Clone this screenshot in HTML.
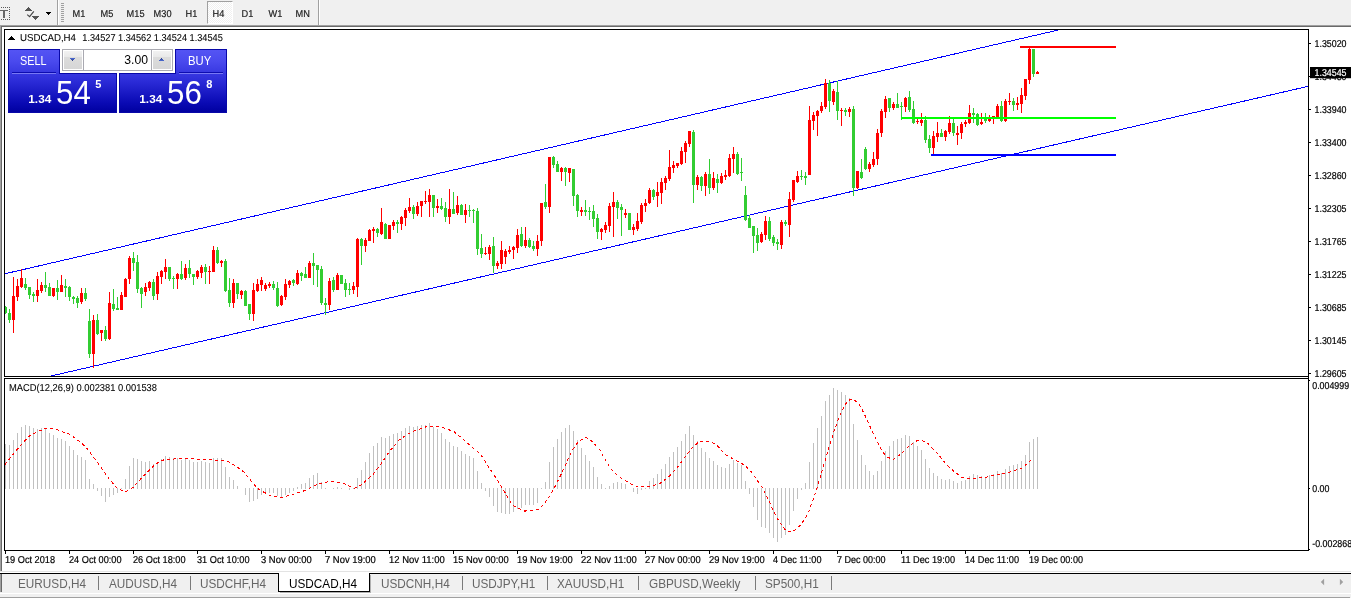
<!DOCTYPE html>
<html lang="en">
<head>
<meta charset="utf-8">
<title>USDCAD,H4</title>
<style>
*{box-sizing:border-box;margin:0;padding:0}
html,body{width:1351px;height:598px;overflow:hidden;background:#fff}
body{position:relative;font-family:"Liberation Sans",sans-serif;font-size:9px;color:#000}
.abs{position:absolute}
.toolbar{left:0;top:0;width:1351px;height:25px;background:#f0f0f0}
.tb-btn{position:absolute;top:0;height:24px;line-height:24px;font-size:10px;color:#1c1c1c;-webkit-text-stroke:.2px #1c1c1c;white-space:nowrap;text-rendering:geometricPrecision;transform-origin:0 17px;transform:translate(.6px,3px) scale(.92,1)}
.tb-active{position:absolute;left:207px;top:1px;width:26px;height:23px;background:repeating-conic-gradient(#ffffff 0% 25%,#f0f0f0 0% 50%) 0 0/2px 2px;border:1px solid #a0a0a0;border-right-color:#fff;border-bottom-color:#fff}
.vsep{position:absolute;top:0;width:2px;height:25px;border-left:1px solid #a0a0a0;border-right:1px solid #fff}
.grip{position:absolute;left:61px;top:3px;width:3px;height:19px;background:repeating-linear-gradient(to bottom,#a0a0a0 0,#a0a0a0 1px,#f0f0f0 1px,#f0f0f0 2px)}
.frame-top1{left:0;top:25px;width:1351px;height:1px;background:#a0a0a0}
.frame-top2{left:1px;top:26px;width:1350px;height:1px;background:#696969}
.frame-l1{left:0;top:25px;width:1px;height:546px;background:#a0a0a0}
.frame-l2{left:1px;top:26px;width:1px;height:545px;background:#696969}
.chart{position:absolute;left:0;top:0}
/* one click trading */
.oct{position:absolute;color:#fff}
.blue{background:linear-gradient(to bottom,#5454f4 0%,#4a4aee 18%,#2c2cd8 50%,#0a0ab4 85%,#0000a0 100%)}
.num{position:absolute;white-space:nowrap;color:#fff}
.spin{position:absolute;top:51px;height:18px;background:linear-gradient(to bottom,#f2f2f2 0,#e9e9e9 33%,#dcdcdc 34%,#d6d6d6 100%)}
/* tabs */
.tabbar{left:0;top:574px;width:1351px;height:24px;background:#f0f0f0}
.tab{position:absolute;top:577.7px;font-size:12.6px;line-height:12px;color:#666;white-space:nowrap;transform-origin:0 0;transform:scaleX(.935)}
.tsep{position:absolute;top:576px;width:1px;height:14px;background:#7a7a7a}
</style>
</head>
<body>
<!-- toolbar -->
<div class="abs toolbar">
  <svg class="abs" style="left:0;top:0" width="60" height="25" viewBox="0 0 60 25" shape-rendering="crispEdges">
    <g fill="#5a5a5a">
      <rect x="1" y="7" width="1" height="1"/><rect x="3" y="7" width="1" height="1"/><rect x="5" y="7" width="1" height="1"/><rect x="7" y="7" width="1" height="1"/><rect x="9" y="7" width="1" height="1"/>
      <rect x="1" y="19" width="1" height="1"/><rect x="3" y="19" width="1" height="1"/><rect x="5" y="19" width="1" height="1"/><rect x="7" y="19" width="1" height="1"/><rect x="9" y="19" width="1" height="1"/>
      <rect x="9" y="9" width="1" height="1"/><rect x="9" y="11" width="1" height="1"/><rect x="9" y="13" width="1" height="1"/><rect x="9" y="15" width="1" height="1"/><rect x="9" y="17" width="1" height="1"/>
    </g>
    <rect x="0" y="10" width="8" height="1" fill="#686868"/>
    <rect x="3" y="10" width="2" height="8" fill="#686868"/>
    <g fill="#555">
      <rect x="28" y="7" width="1" height="1"/><rect x="27" y="8" width="3" height="1"/><rect x="26" y="9" width="5" height="1"/><rect x="25" y="10" width="7" height="1"/>
      <rect x="32" y="16" width="7" height="1"/><rect x="33" y="17" width="5" height="1"/><rect x="34" y="18" width="3" height="1"/><rect x="35" y="19" width="1" height="1"/>
    </g>
    <path d="M27.2 14.6 L29.6 16.6 L33.8 11.3" fill="none" stroke="#484848" stroke-width="1.2" shape-rendering="auto"/>
    <rect x="46" y="12" width="5" height="1" fill="#000"/><rect x="47" y="13" width="3" height="1" fill="#000"/><rect x="48" y="14" width="1" height="1" fill="#000"/>
  </svg>
  <div class="vsep" style="left:57px"></div>
  <div class="grip"></div>
  <div class="tb-active"></div>
  <span class="tb-btn" style="left:72px">M1</span>
  <span class="tb-btn" style="left:100px">M5</span>
  <span class="tb-btn" style="left:126px">M15</span>
  <span class="tb-btn" style="left:153px">M30</span>
  <span class="tb-btn" style="left:185px">H1</span>
  <span class="tb-btn" style="left:212px">H4</span>
  <span class="tb-btn" style="left:241px">D1</span>
  <span class="tb-btn" style="left:268px">W1</span>
  <span class="tb-btn" style="left:295px">MN</span>
  <div class="vsep" style="left:318px"></div>
</div>
<div class="abs frame-top1"></div><div class="abs frame-top2"></div>
<div class="abs frame-l1"></div><div class="abs frame-l2"></div>

<svg class="chart" width="1351" height="598" viewBox="0 0 1351 598"><defs><clipPath id="cm"><rect x="5" y="30" width="1303" height="346"/></clipPath><clipPath id="cs"><rect x="5" y="379" width="1303" height="171"/></clipPath></defs><g shape-rendering="crispEdges"><g clip-path="url(#cm)"><line x1="5.00" y1="273.75" x2="1075.00" y2="26.12" stroke="#0000ff" stroke-width="1"/><line x1="30.00" y1="380.82" x2="1308.00" y2="86.37" stroke="#0000ff" stroke-width="1"/><rect x="5" y="306" width="1" height="8" fill="#32cd32"/><rect x="4" y="307" width="3" height="6" fill="#32cd32"/><rect x="9" y="309" width="1" height="14" fill="#32cd32"/><rect x="8" y="313" width="3" height="7" fill="#32cd32"/><rect x="13" y="277" width="1" height="56" fill="#ff0000"/><rect x="12" y="296" width="3" height="24" fill="#ff0000"/><rect x="17" y="279" width="1" height="22" fill="#ff0000"/><rect x="16" y="286" width="3" height="11" fill="#ff0000"/><rect x="21" y="269" width="1" height="19" fill="#ff0000"/><rect x="20" y="278" width="3" height="9" fill="#ff0000"/><rect x="25" y="278" width="1" height="12" fill="#32cd32"/><rect x="24" y="284" width="3" height="4" fill="#32cd32"/><rect x="29" y="287" width="1" height="12" fill="#32cd32"/><rect x="28" y="287" width="3" height="8" fill="#32cd32"/><rect x="33" y="292" width="1" height="10" fill="#32cd32"/><rect x="32" y="294" width="3" height="2" fill="#32cd32"/><rect x="37" y="279" width="1" height="23" fill="#ff0000"/><rect x="36" y="290" width="3" height="6" fill="#ff0000"/><rect x="41" y="282" width="1" height="11" fill="#ff0000"/><rect x="40" y="285" width="3" height="6" fill="#ff0000"/><rect x="45" y="272" width="1" height="20" fill="#32cd32"/><rect x="44" y="285" width="3" height="3" fill="#32cd32"/><rect x="49" y="283" width="1" height="13" fill="#32cd32"/><rect x="48" y="287" width="3" height="9" fill="#32cd32"/><rect x="53" y="288" width="1" height="9" fill="#ff0000"/><rect x="52" y="288" width="3" height="8" fill="#ff0000"/><rect x="57" y="280" width="1" height="20" fill="#32cd32"/><rect x="56" y="288" width="3" height="4" fill="#32cd32"/><rect x="61" y="275" width="1" height="17" fill="#ff0000"/><rect x="60" y="285" width="3" height="7" fill="#ff0000"/><rect x="65" y="279" width="1" height="18" fill="#32cd32"/><rect x="64" y="286" width="3" height="2" fill="#32cd32"/><rect x="69" y="286" width="1" height="15" fill="#32cd32"/><rect x="68" y="287" width="3" height="10" fill="#32cd32"/><rect x="73" y="296" width="1" height="8" fill="#32cd32"/><rect x="72" y="297" width="3" height="2" fill="#32cd32"/><rect x="77" y="296" width="1" height="12" fill="#32cd32"/><rect x="76" y="298" width="3" height="5" fill="#32cd32"/><rect x="81" y="288" width="1" height="16" fill="#ff0000"/><rect x="80" y="293" width="3" height="9" fill="#ff0000"/><rect x="85" y="288" width="1" height="13" fill="#32cd32"/><rect x="84" y="293" width="3" height="6" fill="#32cd32"/><rect x="89" y="309" width="1" height="49" fill="#32cd32"/><rect x="88" y="321" width="3" height="33" fill="#32cd32"/><rect x="93" y="315" width="1" height="53" fill="#ff0000"/><rect x="92" y="320" width="3" height="34" fill="#ff0000"/><rect x="97" y="314" width="1" height="21" fill="#32cd32"/><rect x="96" y="320" width="3" height="14" fill="#32cd32"/><rect x="101" y="330" width="1" height="11" fill="#ff0000"/><rect x="100" y="330" width="3" height="3" fill="#ff0000"/><rect x="105" y="326" width="1" height="15" fill="#32cd32"/><rect x="104" y="330" width="3" height="9" fill="#32cd32"/><rect x="109" y="292" width="1" height="48" fill="#ff0000"/><rect x="108" y="303" width="3" height="36" fill="#ff0000"/><rect x="113" y="289" width="1" height="22" fill="#32cd32"/><rect x="112" y="304" width="3" height="5" fill="#32cd32"/><rect x="117" y="297" width="1" height="13" fill="#32cd32"/><rect x="116" y="308" width="3" height="2" fill="#32cd32"/><rect x="121" y="292" width="1" height="18" fill="#ff0000"/><rect x="120" y="295" width="3" height="15" fill="#ff0000"/><rect x="125" y="278" width="1" height="19" fill="#ff0000"/><rect x="124" y="279" width="3" height="18" fill="#ff0000"/><rect x="129" y="256" width="1" height="28" fill="#ff0000"/><rect x="128" y="258" width="3" height="21" fill="#ff0000"/><rect x="133" y="252" width="1" height="19" fill="#32cd32"/><rect x="132" y="258" width="3" height="5" fill="#32cd32"/><rect x="137" y="255" width="1" height="38" fill="#32cd32"/><rect x="136" y="262" width="3" height="27" fill="#32cd32"/><rect x="141" y="287" width="1" height="21" fill="#32cd32"/><rect x="140" y="288" width="3" height="6" fill="#32cd32"/><rect x="145" y="283" width="1" height="13" fill="#ff0000"/><rect x="144" y="287" width="3" height="5" fill="#ff0000"/><rect x="149" y="281" width="1" height="10" fill="#ff0000"/><rect x="148" y="282" width="3" height="6" fill="#ff0000"/><rect x="153" y="279" width="1" height="21" fill="#32cd32"/><rect x="152" y="282" width="3" height="14" fill="#32cd32"/><rect x="157" y="272" width="1" height="28" fill="#ff0000"/><rect x="156" y="276" width="3" height="18" fill="#ff0000"/><rect x="161" y="270" width="1" height="14" fill="#ff0000"/><rect x="160" y="271" width="3" height="6" fill="#ff0000"/><rect x="165" y="259" width="1" height="20" fill="#ff0000"/><rect x="164" y="267" width="3" height="5" fill="#ff0000"/><rect x="169" y="267" width="1" height="14" fill="#32cd32"/><rect x="168" y="267" width="3" height="12" fill="#32cd32"/><rect x="173" y="276" width="1" height="13" fill="#32cd32"/><rect x="172" y="278" width="3" height="1" fill="#32cd32"/><rect x="177" y="273" width="1" height="16" fill="#ff0000"/><rect x="176" y="274" width="3" height="5" fill="#ff0000"/><rect x="181" y="261" width="1" height="19" fill="#32cd32"/><rect x="180" y="274" width="3" height="5" fill="#32cd32"/><rect x="185" y="264" width="1" height="16" fill="#ff0000"/><rect x="184" y="268" width="3" height="10" fill="#ff0000"/><rect x="189" y="260" width="1" height="18" fill="#32cd32"/><rect x="188" y="268" width="3" height="6" fill="#32cd32"/><rect x="193" y="274" width="1" height="11" fill="#32cd32"/><rect x="192" y="274" width="3" height="3" fill="#32cd32"/><rect x="197" y="270" width="1" height="9" fill="#ff0000"/><rect x="196" y="271" width="3" height="6" fill="#ff0000"/><rect x="201" y="265" width="1" height="13" fill="#ff0000"/><rect x="200" y="267" width="3" height="6" fill="#ff0000"/><rect x="205" y="264" width="1" height="20" fill="#32cd32"/><rect x="204" y="267" width="3" height="5" fill="#32cd32"/><rect x="209" y="266" width="1" height="18" fill="#ff0000"/><rect x="208" y="271" width="3" height="1" fill="#ff0000"/><rect x="213" y="246" width="1" height="26" fill="#ff0000"/><rect x="212" y="250" width="3" height="22" fill="#ff0000"/><rect x="217" y="247" width="1" height="17" fill="#32cd32"/><rect x="216" y="250" width="3" height="13" fill="#32cd32"/><rect x="221" y="260" width="1" height="7" fill="#ff0000"/><rect x="220" y="261" width="3" height="2" fill="#ff0000"/><rect x="225" y="259" width="1" height="33" fill="#32cd32"/><rect x="224" y="261" width="3" height="30" fill="#32cd32"/><rect x="229" y="278" width="1" height="29" fill="#32cd32"/><rect x="228" y="290" width="3" height="13" fill="#32cd32"/><rect x="233" y="279" width="1" height="29" fill="#ff0000"/><rect x="232" y="283" width="3" height="20" fill="#ff0000"/><rect x="237" y="283" width="1" height="16" fill="#32cd32"/><rect x="236" y="283" width="3" height="11" fill="#32cd32"/><rect x="241" y="290" width="1" height="9" fill="#ff0000"/><rect x="240" y="291" width="3" height="4" fill="#ff0000"/><rect x="245" y="290" width="1" height="16" fill="#32cd32"/><rect x="244" y="291" width="3" height="15" fill="#32cd32"/><rect x="249" y="304" width="1" height="16" fill="#32cd32"/><rect x="248" y="304" width="3" height="10" fill="#32cd32"/><rect x="253" y="283" width="1" height="38" fill="#ff0000"/><rect x="252" y="290" width="3" height="24" fill="#ff0000"/><rect x="257" y="279" width="1" height="13" fill="#ff0000"/><rect x="256" y="284" width="3" height="7" fill="#ff0000"/><rect x="261" y="277" width="1" height="14" fill="#ff0000"/><rect x="260" y="280" width="3" height="5" fill="#ff0000"/><rect x="265" y="283" width="1" height="8" fill="#ff0000"/><rect x="264" y="285" width="3" height="4" fill="#ff0000"/><rect x="269" y="282" width="1" height="6" fill="#ff0000"/><rect x="268" y="284" width="3" height="2" fill="#ff0000"/><rect x="273" y="281" width="1" height="9" fill="#32cd32"/><rect x="272" y="284" width="3" height="4" fill="#32cd32"/><rect x="277" y="282" width="1" height="25" fill="#32cd32"/><rect x="276" y="288" width="3" height="18" fill="#32cd32"/><rect x="281" y="295" width="1" height="11" fill="#ff0000"/><rect x="280" y="296" width="3" height="9" fill="#ff0000"/><rect x="285" y="279" width="1" height="21" fill="#ff0000"/><rect x="284" y="284" width="3" height="13" fill="#ff0000"/><rect x="289" y="280" width="1" height="8" fill="#ff0000"/><rect x="288" y="281" width="3" height="4" fill="#ff0000"/><rect x="293" y="279" width="1" height="7" fill="#32cd32"/><rect x="292" y="280" width="3" height="3" fill="#32cd32"/><rect x="297" y="270" width="1" height="15" fill="#ff0000"/><rect x="296" y="273" width="3" height="11" fill="#ff0000"/><rect x="301" y="272" width="1" height="9" fill="#32cd32"/><rect x="300" y="273" width="3" height="3" fill="#32cd32"/><rect x="305" y="267" width="1" height="11" fill="#32cd32"/><rect x="304" y="274" width="3" height="4" fill="#32cd32"/><rect x="309" y="261" width="1" height="17" fill="#ff0000"/><rect x="308" y="263" width="3" height="15" fill="#ff0000"/><rect x="313" y="253" width="1" height="32" fill="#32cd32"/><rect x="312" y="263" width="3" height="3" fill="#32cd32"/><rect x="317" y="265" width="1" height="22" fill="#32cd32"/><rect x="316" y="265" width="3" height="5" fill="#32cd32"/><rect x="321" y="266" width="1" height="39" fill="#32cd32"/><rect x="320" y="269" width="3" height="34" fill="#32cd32"/><rect x="325" y="298" width="1" height="17" fill="#32cd32"/><rect x="324" y="303" width="3" height="2" fill="#32cd32"/><rect x="329" y="278" width="1" height="32" fill="#ff0000"/><rect x="328" y="281" width="3" height="24" fill="#ff0000"/><rect x="333" y="277" width="1" height="15" fill="#32cd32"/><rect x="332" y="280" width="3" height="10" fill="#32cd32"/><rect x="337" y="273" width="1" height="17" fill="#ff0000"/><rect x="336" y="275" width="3" height="15" fill="#ff0000"/><rect x="341" y="275" width="1" height="9" fill="#32cd32"/><rect x="340" y="275" width="3" height="9" fill="#32cd32"/><rect x="345" y="279" width="1" height="18" fill="#32cd32"/><rect x="344" y="283" width="3" height="7" fill="#32cd32"/><rect x="349" y="283" width="1" height="12" fill="#32cd32"/><rect x="348" y="289" width="3" height="1" fill="#32cd32"/><rect x="353" y="282" width="1" height="12" fill="#ff0000"/><rect x="352" y="286" width="3" height="4" fill="#ff0000"/><rect x="357" y="238" width="1" height="59" fill="#ff0000"/><rect x="356" y="239" width="3" height="48" fill="#ff0000"/><rect x="361" y="238" width="1" height="27" fill="#32cd32"/><rect x="360" y="239" width="3" height="7" fill="#32cd32"/><rect x="365" y="238" width="1" height="14" fill="#ff0000"/><rect x="364" y="240" width="3" height="6" fill="#ff0000"/><rect x="369" y="229" width="1" height="12" fill="#ff0000"/><rect x="368" y="230" width="3" height="11" fill="#ff0000"/><rect x="373" y="227" width="1" height="16" fill="#ff0000"/><rect x="372" y="229" width="3" height="2" fill="#ff0000"/><rect x="377" y="228" width="1" height="9" fill="#32cd32"/><rect x="376" y="229" width="3" height="4" fill="#32cd32"/><rect x="381" y="208" width="1" height="27" fill="#ff0000"/><rect x="380" y="222" width="3" height="12" fill="#ff0000"/><rect x="385" y="223" width="1" height="16" fill="#32cd32"/><rect x="384" y="224" width="3" height="15" fill="#32cd32"/><rect x="389" y="225" width="1" height="14" fill="#ff0000"/><rect x="388" y="225" width="3" height="14" fill="#ff0000"/><rect x="393" y="220" width="1" height="10" fill="#ff0000"/><rect x="392" y="222" width="3" height="4" fill="#ff0000"/><rect x="397" y="220" width="1" height="13" fill="#32cd32"/><rect x="396" y="222" width="3" height="2" fill="#32cd32"/><rect x="401" y="216" width="1" height="14" fill="#ff0000"/><rect x="400" y="217" width="3" height="7" fill="#ff0000"/><rect x="405" y="208" width="1" height="18" fill="#ff0000"/><rect x="404" y="210" width="3" height="8" fill="#ff0000"/><rect x="409" y="198" width="1" height="15" fill="#ff0000"/><rect x="408" y="207" width="3" height="4" fill="#ff0000"/><rect x="413" y="205" width="1" height="14" fill="#32cd32"/><rect x="412" y="207" width="3" height="7" fill="#32cd32"/><rect x="417" y="202" width="1" height="14" fill="#ff0000"/><rect x="416" y="206" width="3" height="8" fill="#ff0000"/><rect x="421" y="201" width="1" height="16" fill="#ff0000"/><rect x="420" y="201" width="3" height="5" fill="#ff0000"/><rect x="425" y="191" width="1" height="13" fill="#ff0000"/><rect x="424" y="201" width="3" height="1" fill="#ff0000"/><rect x="429" y="189" width="1" height="28" fill="#ff0000"/><rect x="428" y="195" width="3" height="7" fill="#ff0000"/><rect x="433" y="195" width="1" height="22" fill="#32cd32"/><rect x="432" y="195" width="3" height="13" fill="#32cd32"/><rect x="437" y="199" width="1" height="14" fill="#ff0000"/><rect x="436" y="206" width="3" height="2" fill="#ff0000"/><rect x="441" y="198" width="1" height="12" fill="#32cd32"/><rect x="440" y="206" width="3" height="3" fill="#32cd32"/><rect x="445" y="202" width="1" height="20" fill="#32cd32"/><rect x="444" y="208" width="3" height="9" fill="#32cd32"/><rect x="449" y="189" width="1" height="35" fill="#ff0000"/><rect x="448" y="209" width="3" height="8" fill="#ff0000"/><rect x="453" y="192" width="1" height="22" fill="#32cd32"/><rect x="452" y="209" width="3" height="5" fill="#32cd32"/><rect x="457" y="196" width="1" height="19" fill="#ff0000"/><rect x="456" y="205" width="3" height="8" fill="#ff0000"/><rect x="461" y="204" width="1" height="11" fill="#32cd32"/><rect x="460" y="205" width="3" height="10" fill="#32cd32"/><rect x="465" y="204" width="1" height="19" fill="#ff0000"/><rect x="464" y="210" width="3" height="5" fill="#ff0000"/><rect x="469" y="205" width="1" height="12" fill="#32cd32"/><rect x="468" y="210" width="3" height="1" fill="#32cd32"/><rect x="473" y="209" width="1" height="14" fill="#32cd32"/><rect x="472" y="210" width="3" height="1" fill="#32cd32"/><rect x="477" y="208" width="1" height="47" fill="#32cd32"/><rect x="476" y="211" width="3" height="38" fill="#32cd32"/><rect x="481" y="234" width="1" height="24" fill="#32cd32"/><rect x="480" y="248" width="3" height="6" fill="#32cd32"/><rect x="485" y="247" width="1" height="8" fill="#ff0000"/><rect x="484" y="253" width="3" height="1" fill="#ff0000"/><rect x="489" y="245" width="1" height="15" fill="#ff0000"/><rect x="488" y="247" width="3" height="7" fill="#ff0000"/><rect x="493" y="237" width="1" height="36" fill="#32cd32"/><rect x="492" y="246" width="3" height="20" fill="#32cd32"/><rect x="497" y="261" width="1" height="8" fill="#ff0000"/><rect x="496" y="263" width="3" height="3" fill="#ff0000"/><rect x="501" y="241" width="1" height="28" fill="#ff0000"/><rect x="500" y="250" width="3" height="14" fill="#ff0000"/><rect x="505" y="249" width="1" height="15" fill="#ff0000"/><rect x="504" y="251" width="3" height="6" fill="#ff0000"/><rect x="509" y="246" width="1" height="8" fill="#ff0000"/><rect x="508" y="250" width="3" height="2" fill="#ff0000"/><rect x="513" y="246" width="1" height="13" fill="#ff0000"/><rect x="512" y="247" width="3" height="3" fill="#ff0000"/><rect x="517" y="229" width="1" height="24" fill="#ff0000"/><rect x="516" y="235" width="3" height="13" fill="#ff0000"/><rect x="521" y="227" width="1" height="20" fill="#32cd32"/><rect x="520" y="234" width="3" height="12" fill="#32cd32"/><rect x="525" y="227" width="1" height="21" fill="#ff0000"/><rect x="524" y="240" width="3" height="6" fill="#ff0000"/><rect x="529" y="238" width="1" height="10" fill="#32cd32"/><rect x="528" y="240" width="3" height="7" fill="#32cd32"/><rect x="533" y="241" width="1" height="10" fill="#32cd32"/><rect x="532" y="246" width="3" height="3" fill="#32cd32"/><rect x="537" y="235" width="1" height="21" fill="#ff0000"/><rect x="536" y="241" width="3" height="8" fill="#ff0000"/><rect x="541" y="203" width="1" height="43" fill="#ff0000"/><rect x="540" y="203" width="3" height="38" fill="#ff0000"/><rect x="545" y="184" width="1" height="25" fill="#32cd32"/><rect x="544" y="202" width="3" height="5" fill="#32cd32"/><rect x="549" y="157" width="1" height="56" fill="#ff0000"/><rect x="548" y="157" width="3" height="50" fill="#ff0000"/><rect x="553" y="156" width="1" height="12" fill="#32cd32"/><rect x="552" y="157" width="3" height="8" fill="#32cd32"/><rect x="557" y="161" width="1" height="11" fill="#32cd32"/><rect x="556" y="164" width="3" height="8" fill="#32cd32"/><rect x="561" y="167" width="1" height="14" fill="#ff0000"/><rect x="560" y="168" width="3" height="4" fill="#ff0000"/><rect x="565" y="167" width="1" height="19" fill="#32cd32"/><rect x="564" y="168" width="3" height="4" fill="#32cd32"/><rect x="569" y="168" width="1" height="14" fill="#ff0000"/><rect x="568" y="168" width="3" height="5" fill="#ff0000"/><rect x="573" y="169" width="1" height="37" fill="#32cd32"/><rect x="572" y="169" width="3" height="27" fill="#32cd32"/><rect x="577" y="194" width="1" height="23" fill="#32cd32"/><rect x="576" y="195" width="3" height="16" fill="#32cd32"/><rect x="581" y="207" width="1" height="9" fill="#ff0000"/><rect x="580" y="210" width="3" height="2" fill="#ff0000"/><rect x="585" y="200" width="1" height="16" fill="#32cd32"/><rect x="584" y="210" width="3" height="2" fill="#32cd32"/><rect x="589" y="207" width="1" height="13" fill="#32cd32"/><rect x="588" y="211" width="3" height="1" fill="#32cd32"/><rect x="593" y="205" width="1" height="22" fill="#32cd32"/><rect x="592" y="211" width="3" height="8" fill="#32cd32"/><rect x="597" y="214" width="1" height="25" fill="#32cd32"/><rect x="596" y="218" width="3" height="14" fill="#32cd32"/><rect x="601" y="228" width="1" height="12" fill="#ff0000"/><rect x="600" y="229" width="3" height="3" fill="#ff0000"/><rect x="605" y="222" width="1" height="11" fill="#ff0000"/><rect x="604" y="225" width="3" height="5" fill="#ff0000"/><rect x="609" y="203" width="1" height="29" fill="#ff0000"/><rect x="608" y="206" width="3" height="20" fill="#ff0000"/><rect x="613" y="192" width="1" height="45" fill="#ff0000"/><rect x="612" y="202" width="3" height="5" fill="#ff0000"/><rect x="617" y="200" width="1" height="19" fill="#32cd32"/><rect x="616" y="202" width="3" height="6" fill="#32cd32"/><rect x="621" y="204" width="1" height="32" fill="#32cd32"/><rect x="620" y="207" width="3" height="3" fill="#32cd32"/><rect x="625" y="209" width="1" height="9" fill="#ff0000"/><rect x="624" y="213" width="3" height="2" fill="#ff0000"/><rect x="629" y="213" width="1" height="17" fill="#32cd32"/><rect x="628" y="213" width="3" height="17" fill="#32cd32"/><rect x="633" y="224" width="1" height="11" fill="#ff0000"/><rect x="632" y="227" width="3" height="3" fill="#ff0000"/><rect x="637" y="213" width="1" height="18" fill="#ff0000"/><rect x="636" y="221" width="3" height="8" fill="#ff0000"/><rect x="641" y="203" width="1" height="21" fill="#ff0000"/><rect x="640" y="205" width="3" height="17" fill="#ff0000"/><rect x="645" y="199" width="1" height="13" fill="#ff0000"/><rect x="644" y="203" width="3" height="3" fill="#ff0000"/><rect x="649" y="188" width="1" height="16" fill="#ff0000"/><rect x="648" y="190" width="3" height="13" fill="#ff0000"/><rect x="653" y="189" width="1" height="11" fill="#32cd32"/><rect x="652" y="190" width="3" height="7" fill="#32cd32"/><rect x="657" y="182" width="1" height="25" fill="#ff0000"/><rect x="656" y="192" width="3" height="4" fill="#ff0000"/><rect x="661" y="178" width="1" height="26" fill="#ff0000"/><rect x="660" y="182" width="3" height="11" fill="#ff0000"/><rect x="665" y="176" width="1" height="14" fill="#ff0000"/><rect x="664" y="178" width="3" height="5" fill="#ff0000"/><rect x="669" y="150" width="1" height="31" fill="#ff0000"/><rect x="668" y="167" width="3" height="12" fill="#ff0000"/><rect x="673" y="161" width="1" height="12" fill="#ff0000"/><rect x="672" y="165" width="3" height="3" fill="#ff0000"/><rect x="677" y="163" width="1" height="5" fill="#ff0000"/><rect x="676" y="163" width="3" height="3" fill="#ff0000"/><rect x="681" y="147" width="1" height="18" fill="#ff0000"/><rect x="680" y="151" width="3" height="13" fill="#ff0000"/><rect x="685" y="141" width="1" height="22" fill="#ff0000"/><rect x="684" y="143" width="3" height="9" fill="#ff0000"/><rect x="689" y="131" width="1" height="16" fill="#ff0000"/><rect x="688" y="131" width="3" height="13" fill="#ff0000"/><rect x="693" y="130" width="1" height="73" fill="#32cd32"/><rect x="692" y="132" width="3" height="53" fill="#32cd32"/><rect x="697" y="175" width="1" height="15" fill="#ff0000"/><rect x="696" y="177" width="3" height="8" fill="#ff0000"/><rect x="701" y="176" width="1" height="15" fill="#32cd32"/><rect x="700" y="177" width="3" height="9" fill="#32cd32"/><rect x="705" y="172" width="1" height="24" fill="#ff0000"/><rect x="704" y="174" width="3" height="12" fill="#ff0000"/><rect x="709" y="159" width="1" height="35" fill="#32cd32"/><rect x="708" y="174" width="3" height="14" fill="#32cd32"/><rect x="713" y="172" width="1" height="18" fill="#ff0000"/><rect x="712" y="178" width="3" height="10" fill="#ff0000"/><rect x="717" y="174" width="1" height="19" fill="#32cd32"/><rect x="716" y="179" width="3" height="4" fill="#32cd32"/><rect x="721" y="173" width="1" height="11" fill="#ff0000"/><rect x="720" y="176" width="3" height="7" fill="#ff0000"/><rect x="725" y="170" width="1" height="10" fill="#ff0000"/><rect x="724" y="175" width="3" height="2" fill="#ff0000"/><rect x="729" y="154" width="1" height="23" fill="#ff0000"/><rect x="728" y="158" width="3" height="18" fill="#ff0000"/><rect x="733" y="147" width="1" height="26" fill="#ff0000"/><rect x="732" y="154" width="3" height="5" fill="#ff0000"/><rect x="737" y="152" width="1" height="23" fill="#32cd32"/><rect x="736" y="154" width="3" height="20" fill="#32cd32"/><rect x="741" y="158" width="1" height="23" fill="#32cd32"/><rect x="740" y="172" width="3" height="1" fill="#32cd32"/><rect x="745" y="186" width="1" height="35" fill="#32cd32"/><rect x="744" y="195" width="3" height="25" fill="#32cd32"/><rect x="749" y="215" width="1" height="13" fill="#32cd32"/><rect x="748" y="218" width="3" height="10" fill="#32cd32"/><rect x="753" y="226" width="1" height="27" fill="#32cd32"/><rect x="752" y="226" width="3" height="10" fill="#32cd32"/><rect x="757" y="228" width="1" height="23" fill="#32cd32"/><rect x="756" y="235" width="3" height="8" fill="#32cd32"/><rect x="761" y="232" width="1" height="11" fill="#ff0000"/><rect x="760" y="234" width="3" height="8" fill="#ff0000"/><rect x="765" y="216" width="1" height="24" fill="#ff0000"/><rect x="764" y="221" width="3" height="14" fill="#ff0000"/><rect x="769" y="217" width="1" height="24" fill="#32cd32"/><rect x="768" y="221" width="3" height="18" fill="#32cd32"/><rect x="773" y="235" width="1" height="11" fill="#32cd32"/><rect x="772" y="237" width="3" height="6" fill="#32cd32"/><rect x="777" y="239" width="1" height="11" fill="#32cd32"/><rect x="776" y="242" width="3" height="2" fill="#32cd32"/><rect x="781" y="220" width="1" height="29" fill="#ff0000"/><rect x="780" y="222" width="3" height="23" fill="#ff0000"/><rect x="785" y="220" width="1" height="6" fill="#32cd32"/><rect x="784" y="222" width="3" height="2" fill="#32cd32"/><rect x="789" y="192" width="1" height="45" fill="#ff0000"/><rect x="788" y="199" width="3" height="26" fill="#ff0000"/><rect x="793" y="180" width="1" height="22" fill="#ff0000"/><rect x="792" y="180" width="3" height="20" fill="#ff0000"/><rect x="797" y="171" width="1" height="12" fill="#ff0000"/><rect x="796" y="176" width="3" height="6" fill="#ff0000"/><rect x="801" y="170" width="1" height="10" fill="#32cd32"/><rect x="800" y="176" width="3" height="1" fill="#32cd32"/><rect x="805" y="172" width="1" height="13" fill="#32cd32"/><rect x="804" y="176" width="3" height="2" fill="#32cd32"/><rect x="809" y="106" width="1" height="69" fill="#ff0000"/><rect x="808" y="120" width="3" height="55" fill="#ff0000"/><rect x="813" y="112" width="1" height="18" fill="#ff0000"/><rect x="812" y="115" width="3" height="6" fill="#ff0000"/><rect x="817" y="110" width="1" height="26" fill="#ff0000"/><rect x="816" y="111" width="3" height="5" fill="#ff0000"/><rect x="821" y="102" width="1" height="11" fill="#ff0000"/><rect x="820" y="106" width="3" height="5" fill="#ff0000"/><rect x="825" y="79" width="1" height="30" fill="#ff0000"/><rect x="824" y="83" width="3" height="24" fill="#ff0000"/><rect x="829" y="80" width="1" height="32" fill="#32cd32"/><rect x="828" y="83" width="3" height="18" fill="#32cd32"/><rect x="833" y="89" width="1" height="16" fill="#ff0000"/><rect x="832" y="91" width="3" height="11" fill="#ff0000"/><rect x="837" y="81" width="1" height="39" fill="#32cd32"/><rect x="836" y="92" width="3" height="19" fill="#32cd32"/><rect x="841" y="108" width="1" height="18" fill="#ff0000"/><rect x="840" y="110" width="3" height="1" fill="#ff0000"/><rect x="845" y="108" width="1" height="8" fill="#32cd32"/><rect x="844" y="110" width="3" height="2" fill="#32cd32"/><rect x="849" y="107" width="1" height="10" fill="#ff0000"/><rect x="848" y="109" width="3" height="3" fill="#ff0000"/><rect x="853" y="106" width="1" height="90" fill="#32cd32"/><rect x="852" y="109" width="3" height="79" fill="#32cd32"/><rect x="857" y="171" width="1" height="18" fill="#ff0000"/><rect x="856" y="171" width="3" height="17" fill="#ff0000"/><rect x="861" y="159" width="1" height="20" fill="#32cd32"/><rect x="860" y="172" width="3" height="6" fill="#32cd32"/><rect x="865" y="147" width="1" height="23" fill="#32cd32"/><rect x="864" y="149" width="3" height="20" fill="#32cd32"/><rect x="869" y="162" width="1" height="10" fill="#ff0000"/><rect x="868" y="164" width="3" height="5" fill="#ff0000"/><rect x="873" y="152" width="1" height="15" fill="#ff0000"/><rect x="872" y="159" width="3" height="6" fill="#ff0000"/><rect x="877" y="129" width="1" height="36" fill="#ff0000"/><rect x="876" y="133" width="3" height="26" fill="#ff0000"/><rect x="881" y="109" width="1" height="28" fill="#ff0000"/><rect x="880" y="111" width="3" height="22" fill="#ff0000"/><rect x="885" y="96" width="1" height="22" fill="#ff0000"/><rect x="884" y="99" width="3" height="13" fill="#ff0000"/><rect x="889" y="98" width="1" height="14" fill="#32cd32"/><rect x="888" y="98" width="3" height="10" fill="#32cd32"/><rect x="893" y="102" width="1" height="8" fill="#ff0000"/><rect x="892" y="104" width="3" height="4" fill="#ff0000"/><rect x="897" y="93" width="1" height="15" fill="#32cd32"/><rect x="896" y="104" width="3" height="4" fill="#32cd32"/><rect x="901" y="102" width="1" height="18" fill="#32cd32"/><rect x="900" y="106" width="3" height="1" fill="#32cd32"/><rect x="905" y="97" width="1" height="15" fill="#ff0000"/><rect x="904" y="98" width="3" height="9" fill="#ff0000"/><rect x="909" y="91" width="1" height="21" fill="#32cd32"/><rect x="908" y="97" width="3" height="13" fill="#32cd32"/><rect x="913" y="101" width="1" height="23" fill="#32cd32"/><rect x="912" y="109" width="3" height="14" fill="#32cd32"/><rect x="917" y="119" width="1" height="5" fill="#ff0000"/><rect x="916" y="121" width="3" height="1" fill="#ff0000"/><rect x="921" y="113" width="1" height="13" fill="#ff0000"/><rect x="920" y="120" width="3" height="3" fill="#ff0000"/><rect x="925" y="116" width="1" height="27" fill="#32cd32"/><rect x="924" y="120" width="3" height="20" fill="#32cd32"/><rect x="929" y="135" width="1" height="18" fill="#32cd32"/><rect x="928" y="139" width="3" height="9" fill="#32cd32"/><rect x="933" y="131" width="1" height="24" fill="#ff0000"/><rect x="932" y="136" width="3" height="12" fill="#ff0000"/><rect x="937" y="122" width="1" height="20" fill="#ff0000"/><rect x="936" y="133" width="3" height="4" fill="#ff0000"/><rect x="941" y="129" width="1" height="8" fill="#32cd32"/><rect x="940" y="133" width="3" height="4" fill="#32cd32"/><rect x="945" y="130" width="1" height="11" fill="#ff0000"/><rect x="944" y="131" width="3" height="6" fill="#ff0000"/><rect x="949" y="116" width="1" height="18" fill="#ff0000"/><rect x="948" y="123" width="3" height="9" fill="#ff0000"/><rect x="953" y="118" width="1" height="18" fill="#32cd32"/><rect x="952" y="123" width="3" height="10" fill="#32cd32"/><rect x="957" y="126" width="1" height="19" fill="#ff0000"/><rect x="956" y="133" width="3" height="2" fill="#ff0000"/><rect x="961" y="122" width="1" height="17" fill="#ff0000"/><rect x="960" y="124" width="3" height="9" fill="#ff0000"/><rect x="965" y="120" width="1" height="7" fill="#ff0000"/><rect x="964" y="122" width="3" height="2" fill="#ff0000"/><rect x="969" y="105" width="1" height="19" fill="#ff0000"/><rect x="968" y="113" width="3" height="10" fill="#ff0000"/><rect x="973" y="108" width="1" height="15" fill="#32cd32"/><rect x="972" y="113" width="3" height="2" fill="#32cd32"/><rect x="977" y="113" width="1" height="13" fill="#32cd32"/><rect x="976" y="114" width="3" height="11" fill="#32cd32"/><rect x="981" y="113" width="1" height="12" fill="#ff0000"/><rect x="980" y="122" width="3" height="2" fill="#ff0000"/><rect x="985" y="113" width="1" height="10" fill="#32cd32"/><rect x="984" y="117" width="3" height="4" fill="#32cd32"/><rect x="989" y="115" width="1" height="7" fill="#ff0000"/><rect x="988" y="117" width="3" height="4" fill="#ff0000"/><rect x="993" y="116" width="1" height="8" fill="#ff0000"/><rect x="992" y="116" width="3" height="2" fill="#ff0000"/><rect x="997" y="104" width="1" height="14" fill="#ff0000"/><rect x="996" y="106" width="3" height="12" fill="#ff0000"/><rect x="1001" y="101" width="1" height="21" fill="#32cd32"/><rect x="1000" y="106" width="3" height="15" fill="#32cd32"/><rect x="1005" y="99" width="1" height="23" fill="#ff0000"/><rect x="1004" y="101" width="3" height="20" fill="#ff0000"/><rect x="1009" y="93" width="1" height="12" fill="#ff0000"/><rect x="1008" y="101" width="3" height="1" fill="#ff0000"/><rect x="1013" y="98" width="1" height="13" fill="#32cd32"/><rect x="1012" y="101" width="3" height="4" fill="#32cd32"/><rect x="1017" y="97" width="1" height="13" fill="#ff0000"/><rect x="1016" y="103" width="3" height="2" fill="#ff0000"/><rect x="1021" y="88" width="1" height="25" fill="#ff0000"/><rect x="1020" y="95" width="3" height="9" fill="#ff0000"/><rect x="1025" y="79" width="1" height="21" fill="#ff0000"/><rect x="1024" y="79" width="3" height="17" fill="#ff0000"/><rect x="1029" y="47" width="1" height="37" fill="#ff0000"/><rect x="1028" y="49" width="3" height="31" fill="#ff0000"/><rect x="1033" y="49" width="1" height="28" fill="#32cd32"/><rect x="1032" y="49" width="3" height="25" fill="#32cd32"/><rect x="1037" y="71" width="1" height="3" fill="#ff0000"/><rect x="1036" y="72" width="3" height="2" fill="#ff0000"/><rect x="1020" y="46" width="96" height="2" fill="#ff0000"/><rect x="901" y="117" width="215" height="2" fill="#00ff00"/><rect x="931" y="154" width="185" height="2" fill="#0000ff"/></g><g clip-path="url(#cs)"><rect x="5" y="444" width="1" height="45" fill="#c0c0c0"/><rect x="9" y="445" width="1" height="44" fill="#c0c0c0"/><rect x="13" y="440" width="1" height="49" fill="#c0c0c0"/><rect x="17" y="433" width="1" height="56" fill="#c0c0c0"/><rect x="21" y="427" width="1" height="62" fill="#c0c0c0"/><rect x="25" y="425" width="1" height="64" fill="#c0c0c0"/><rect x="29" y="426" width="1" height="63" fill="#c0c0c0"/><rect x="33" y="428" width="1" height="61" fill="#c0c0c0"/><rect x="37" y="429" width="1" height="60" fill="#c0c0c0"/><rect x="41" y="428" width="1" height="61" fill="#c0c0c0"/><rect x="45" y="429" width="1" height="60" fill="#c0c0c0"/><rect x="49" y="433" width="1" height="56" fill="#c0c0c0"/><rect x="53" y="435" width="1" height="54" fill="#c0c0c0"/><rect x="57" y="438" width="1" height="51" fill="#c0c0c0"/><rect x="61" y="439" width="1" height="50" fill="#c0c0c0"/><rect x="65" y="441" width="1" height="48" fill="#c0c0c0"/><rect x="69" y="446" width="1" height="43" fill="#c0c0c0"/><rect x="73" y="450" width="1" height="39" fill="#c0c0c0"/><rect x="77" y="455" width="1" height="34" fill="#c0c0c0"/><rect x="81" y="457" width="1" height="32" fill="#c0c0c0"/><rect x="85" y="460" width="1" height="29" fill="#c0c0c0"/><rect x="89" y="479" width="1" height="10" fill="#c0c0c0"/><rect x="93" y="484" width="1" height="5" fill="#c0c0c0"/><rect x="97" y="488" width="1" height="3" fill="#c0c0c0"/><rect x="101" y="488" width="1" height="8" fill="#c0c0c0"/><rect x="105" y="488" width="1" height="14" fill="#c0c0c0"/><rect x="109" y="488" width="1" height="9" fill="#c0c0c0"/><rect x="113" y="488" width="1" height="7" fill="#c0c0c0"/><rect x="117" y="488" width="1" height="5" fill="#c0c0c0"/><rect x="121" y="488" width="1" height="1" fill="#c0c0c0"/><rect x="125" y="479" width="1" height="10" fill="#c0c0c0"/><rect x="129" y="466" width="1" height="23" fill="#c0c0c0"/><rect x="133" y="458" width="1" height="31" fill="#c0c0c0"/><rect x="137" y="459" width="1" height="30" fill="#c0c0c0"/><rect x="141" y="461" width="1" height="28" fill="#c0c0c0"/><rect x="145" y="462" width="1" height="27" fill="#c0c0c0"/><rect x="149" y="461" width="1" height="28" fill="#c0c0c0"/><rect x="153" y="464" width="1" height="25" fill="#c0c0c0"/><rect x="157" y="462" width="1" height="27" fill="#c0c0c0"/><rect x="161" y="459" width="1" height="30" fill="#c0c0c0"/><rect x="165" y="456" width="1" height="33" fill="#c0c0c0"/><rect x="169" y="457" width="1" height="32" fill="#c0c0c0"/><rect x="173" y="458" width="1" height="31" fill="#c0c0c0"/><rect x="177" y="458" width="1" height="31" fill="#c0c0c0"/><rect x="181" y="460" width="1" height="29" fill="#c0c0c0"/><rect x="185" y="459" width="1" height="30" fill="#c0c0c0"/><rect x="189" y="460" width="1" height="29" fill="#c0c0c0"/><rect x="193" y="462" width="1" height="27" fill="#c0c0c0"/><rect x="197" y="462" width="1" height="27" fill="#c0c0c0"/><rect x="201" y="461" width="1" height="28" fill="#c0c0c0"/><rect x="205" y="462" width="1" height="27" fill="#c0c0c0"/><rect x="209" y="463" width="1" height="26" fill="#c0c0c0"/><rect x="213" y="458" width="1" height="31" fill="#c0c0c0"/><rect x="217" y="458" width="1" height="31" fill="#c0c0c0"/><rect x="221" y="458" width="1" height="31" fill="#c0c0c0"/><rect x="225" y="467" width="1" height="22" fill="#c0c0c0"/><rect x="229" y="477" width="1" height="12" fill="#c0c0c0"/><rect x="233" y="480" width="1" height="9" fill="#c0c0c0"/><rect x="237" y="486" width="1" height="3" fill="#c0c0c0"/><rect x="245" y="488" width="1" height="7" fill="#c0c0c0"/><rect x="249" y="488" width="1" height="14" fill="#c0c0c0"/><rect x="253" y="488" width="1" height="13" fill="#c0c0c0"/><rect x="257" y="488" width="1" height="11" fill="#c0c0c0"/><rect x="261" y="488" width="1" height="7" fill="#c0c0c0"/><rect x="265" y="488" width="1" height="4" fill="#c0c0c0"/><rect x="269" y="488" width="1" height="5" fill="#c0c0c0"/><rect x="273" y="488" width="1" height="5" fill="#c0c0c0"/><rect x="277" y="488" width="1" height="8" fill="#c0c0c0"/><rect x="281" y="488" width="1" height="9" fill="#c0c0c0"/><rect x="285" y="488" width="1" height="7" fill="#c0c0c0"/><rect x="289" y="488" width="1" height="5" fill="#c0c0c0"/><rect x="293" y="488" width="1" height="3" fill="#c0c0c0"/><rect x="297" y="487" width="1" height="2" fill="#c0c0c0"/><rect x="301" y="484" width="1" height="5" fill="#c0c0c0"/><rect x="305" y="483" width="1" height="6" fill="#c0c0c0"/><rect x="309" y="478" width="1" height="11" fill="#c0c0c0"/><rect x="313" y="475" width="1" height="14" fill="#c0c0c0"/><rect x="317" y="473" width="1" height="16" fill="#c0c0c0"/><rect x="321" y="482" width="1" height="7" fill="#c0c0c0"/><rect x="325" y="488" width="1" height="1" fill="#c0c0c0"/><rect x="333" y="488" width="1" height="1" fill="#c0c0c0"/><rect x="337" y="487" width="1" height="2" fill="#c0c0c0"/><rect x="341" y="488" width="1" height="1" fill="#c0c0c0"/><rect x="349" y="488" width="1" height="2" fill="#c0c0c0"/><rect x="353" y="488" width="1" height="1" fill="#c0c0c0"/><rect x="357" y="478" width="1" height="11" fill="#c0c0c0"/><rect x="361" y="470" width="1" height="19" fill="#c0c0c0"/><rect x="365" y="462" width="1" height="27" fill="#c0c0c0"/><rect x="369" y="453" width="1" height="36" fill="#c0c0c0"/><rect x="373" y="446" width="1" height="43" fill="#c0c0c0"/><rect x="377" y="443" width="1" height="46" fill="#c0c0c0"/><rect x="381" y="437" width="1" height="52" fill="#c0c0c0"/><rect x="385" y="438" width="1" height="51" fill="#c0c0c0"/><rect x="389" y="436" width="1" height="53" fill="#c0c0c0"/><rect x="393" y="434" width="1" height="55" fill="#c0c0c0"/><rect x="397" y="433" width="1" height="56" fill="#c0c0c0"/><rect x="401" y="431" width="1" height="58" fill="#c0c0c0"/><rect x="405" y="428" width="1" height="61" fill="#c0c0c0"/><rect x="409" y="426" width="1" height="63" fill="#c0c0c0"/><rect x="413" y="427" width="1" height="62" fill="#c0c0c0"/><rect x="417" y="426" width="1" height="63" fill="#c0c0c0"/><rect x="421" y="425" width="1" height="64" fill="#c0c0c0"/><rect x="425" y="425" width="1" height="64" fill="#c0c0c0"/><rect x="429" y="423" width="1" height="66" fill="#c0c0c0"/><rect x="433" y="427" width="1" height="62" fill="#c0c0c0"/><rect x="437" y="429" width="1" height="60" fill="#c0c0c0"/><rect x="441" y="433" width="1" height="56" fill="#c0c0c0"/><rect x="445" y="439" width="1" height="50" fill="#c0c0c0"/><rect x="449" y="442" width="1" height="47" fill="#c0c0c0"/><rect x="453" y="446" width="1" height="43" fill="#c0c0c0"/><rect x="457" y="447" width="1" height="42" fill="#c0c0c0"/><rect x="461" y="451" width="1" height="38" fill="#c0c0c0"/><rect x="465" y="454" width="1" height="35" fill="#c0c0c0"/><rect x="469" y="456" width="1" height="33" fill="#c0c0c0"/><rect x="473" y="458" width="1" height="31" fill="#c0c0c0"/><rect x="477" y="471" width="1" height="18" fill="#c0c0c0"/><rect x="481" y="483" width="1" height="6" fill="#c0c0c0"/><rect x="485" y="488" width="1" height="3" fill="#c0c0c0"/><rect x="489" y="488" width="1" height="9" fill="#c0c0c0"/><rect x="493" y="488" width="1" height="18" fill="#c0c0c0"/><rect x="497" y="488" width="1" height="24" fill="#c0c0c0"/><rect x="501" y="488" width="1" height="25" fill="#c0c0c0"/><rect x="505" y="488" width="1" height="26" fill="#c0c0c0"/><rect x="509" y="488" width="1" height="26" fill="#c0c0c0"/><rect x="513" y="488" width="1" height="24" fill="#c0c0c0"/><rect x="517" y="488" width="1" height="21" fill="#c0c0c0"/><rect x="521" y="488" width="1" height="20" fill="#c0c0c0"/><rect x="525" y="488" width="1" height="17" fill="#c0c0c0"/><rect x="529" y="488" width="1" height="17" fill="#c0c0c0"/><rect x="533" y="488" width="1" height="17" fill="#c0c0c0"/><rect x="537" y="488" width="1" height="15" fill="#c0c0c0"/><rect x="541" y="488" width="1" height="1" fill="#c0c0c0"/><rect x="545" y="482" width="1" height="7" fill="#c0c0c0"/><rect x="549" y="462" width="1" height="27" fill="#c0c0c0"/><rect x="553" y="447" width="1" height="42" fill="#c0c0c0"/><rect x="557" y="439" width="1" height="50" fill="#c0c0c0"/><rect x="561" y="432" width="1" height="57" fill="#c0c0c0"/><rect x="565" y="428" width="1" height="61" fill="#c0c0c0"/><rect x="569" y="425" width="1" height="64" fill="#c0c0c0"/><rect x="573" y="431" width="1" height="58" fill="#c0c0c0"/><rect x="577" y="440" width="1" height="49" fill="#c0c0c0"/><rect x="581" y="448" width="1" height="41" fill="#c0c0c0"/><rect x="585" y="455" width="1" height="34" fill="#c0c0c0"/><rect x="589" y="461" width="1" height="28" fill="#c0c0c0"/><rect x="593" y="467" width="1" height="22" fill="#c0c0c0"/><rect x="597" y="477" width="1" height="12" fill="#c0c0c0"/><rect x="601" y="484" width="1" height="5" fill="#c0c0c0"/><rect x="605" y="488" width="1" height="1" fill="#c0c0c0"/><rect x="609" y="486" width="1" height="3" fill="#c0c0c0"/><rect x="613" y="483" width="1" height="6" fill="#c0c0c0"/><rect x="617" y="482" width="1" height="7" fill="#c0c0c0"/><rect x="621" y="483" width="1" height="6" fill="#c0c0c0"/><rect x="625" y="484" width="1" height="5" fill="#c0c0c0"/><rect x="633" y="488" width="1" height="4" fill="#c0c0c0"/><rect x="637" y="488" width="1" height="6" fill="#c0c0c0"/><rect x="641" y="488" width="1" height="2" fill="#c0c0c0"/><rect x="645" y="488" width="1" height="1" fill="#c0c0c0"/><rect x="649" y="481" width="1" height="8" fill="#c0c0c0"/><rect x="653" y="478" width="1" height="11" fill="#c0c0c0"/><rect x="657" y="474" width="1" height="15" fill="#c0c0c0"/><rect x="661" y="469" width="1" height="20" fill="#c0c0c0"/><rect x="665" y="464" width="1" height="25" fill="#c0c0c0"/><rect x="669" y="457" width="1" height="32" fill="#c0c0c0"/><rect x="673" y="452" width="1" height="37" fill="#c0c0c0"/><rect x="677" y="447" width="1" height="42" fill="#c0c0c0"/><rect x="681" y="441" width="1" height="48" fill="#c0c0c0"/><rect x="685" y="434" width="1" height="55" fill="#c0c0c0"/><rect x="689" y="426" width="1" height="63" fill="#c0c0c0"/><rect x="693" y="435" width="1" height="54" fill="#c0c0c0"/><rect x="697" y="441" width="1" height="48" fill="#c0c0c0"/><rect x="701" y="448" width="1" height="41" fill="#c0c0c0"/><rect x="705" y="452" width="1" height="37" fill="#c0c0c0"/><rect x="709" y="458" width="1" height="31" fill="#c0c0c0"/><rect x="713" y="461" width="1" height="28" fill="#c0c0c0"/><rect x="717" y="465" width="1" height="24" fill="#c0c0c0"/><rect x="721" y="467" width="1" height="22" fill="#c0c0c0"/><rect x="725" y="468" width="1" height="21" fill="#c0c0c0"/><rect x="729" y="464" width="1" height="25" fill="#c0c0c0"/><rect x="733" y="460" width="1" height="29" fill="#c0c0c0"/><rect x="737" y="463" width="1" height="26" fill="#c0c0c0"/><rect x="741" y="465" width="1" height="24" fill="#c0c0c0"/><rect x="745" y="481" width="1" height="8" fill="#c0c0c0"/><rect x="749" y="488" width="1" height="6" fill="#c0c0c0"/><rect x="753" y="488" width="1" height="19" fill="#c0c0c0"/><rect x="757" y="488" width="1" height="32" fill="#c0c0c0"/><rect x="761" y="488" width="1" height="39" fill="#c0c0c0"/><rect x="765" y="488" width="1" height="40" fill="#c0c0c0"/><rect x="769" y="488" width="1" height="45" fill="#c0c0c0"/><rect x="773" y="488" width="1" height="50" fill="#c0c0c0"/><rect x="777" y="488" width="1" height="54" fill="#c0c0c0"/><rect x="781" y="488" width="1" height="50" fill="#c0c0c0"/><rect x="785" y="488" width="1" height="47" fill="#c0c0c0"/><rect x="789" y="488" width="1" height="37" fill="#c0c0c0"/><rect x="793" y="488" width="1" height="23" fill="#c0c0c0"/><rect x="797" y="488" width="1" height="11" fill="#c0c0c0"/><rect x="801" y="488" width="1" height="2" fill="#c0c0c0"/><rect x="805" y="483" width="1" height="6" fill="#c0c0c0"/><rect x="809" y="462" width="1" height="27" fill="#c0c0c0"/><rect x="813" y="443" width="1" height="46" fill="#c0c0c0"/><rect x="817" y="428" width="1" height="61" fill="#c0c0c0"/><rect x="821" y="416" width="1" height="73" fill="#c0c0c0"/><rect x="825" y="401" width="1" height="88" fill="#c0c0c0"/><rect x="829" y="395" width="1" height="94" fill="#c0c0c0"/><rect x="833" y="388" width="1" height="101" fill="#c0c0c0"/><rect x="837" y="390" width="1" height="99" fill="#c0c0c0"/><rect x="841" y="392" width="1" height="97" fill="#c0c0c0"/><rect x="845" y="395" width="1" height="94" fill="#c0c0c0"/><rect x="849" y="398" width="1" height="91" fill="#c0c0c0"/><rect x="853" y="424" width="1" height="65" fill="#c0c0c0"/><rect x="857" y="440" width="1" height="49" fill="#c0c0c0"/><rect x="861" y="455" width="1" height="34" fill="#c0c0c0"/><rect x="865" y="465" width="1" height="24" fill="#c0c0c0"/><rect x="869" y="471" width="1" height="18" fill="#c0c0c0"/><rect x="873" y="475" width="1" height="14" fill="#c0c0c0"/><rect x="877" y="471" width="1" height="18" fill="#c0c0c0"/><rect x="881" y="461" width="1" height="28" fill="#c0c0c0"/><rect x="885" y="451" width="1" height="38" fill="#c0c0c0"/><rect x="889" y="446" width="1" height="43" fill="#c0c0c0"/><rect x="893" y="441" width="1" height="48" fill="#c0c0c0"/><rect x="897" y="439" width="1" height="50" fill="#c0c0c0"/><rect x="901" y="438" width="1" height="51" fill="#c0c0c0"/><rect x="905" y="435" width="1" height="54" fill="#c0c0c0"/><rect x="909" y="436" width="1" height="53" fill="#c0c0c0"/><rect x="913" y="442" width="1" height="47" fill="#c0c0c0"/><rect x="917" y="446" width="1" height="43" fill="#c0c0c0"/><rect x="921" y="450" width="1" height="39" fill="#c0c0c0"/><rect x="925" y="459" width="1" height="30" fill="#c0c0c0"/><rect x="929" y="468" width="1" height="21" fill="#c0c0c0"/><rect x="933" y="473" width="1" height="16" fill="#c0c0c0"/><rect x="937" y="476" width="1" height="13" fill="#c0c0c0"/><rect x="941" y="479" width="1" height="10" fill="#c0c0c0"/><rect x="945" y="480" width="1" height="9" fill="#c0c0c0"/><rect x="949" y="479" width="1" height="10" fill="#c0c0c0"/><rect x="953" y="481" width="1" height="8" fill="#c0c0c0"/><rect x="957" y="483" width="1" height="6" fill="#c0c0c0"/><rect x="961" y="481" width="1" height="8" fill="#c0c0c0"/><rect x="965" y="480" width="1" height="9" fill="#c0c0c0"/><rect x="969" y="476" width="1" height="13" fill="#c0c0c0"/><rect x="973" y="474" width="1" height="15" fill="#c0c0c0"/><rect x="977" y="475" width="1" height="14" fill="#c0c0c0"/><rect x="981" y="476" width="1" height="13" fill="#c0c0c0"/><rect x="985" y="477" width="1" height="12" fill="#c0c0c0"/><rect x="989" y="475" width="1" height="14" fill="#c0c0c0"/><rect x="993" y="474" width="1" height="15" fill="#c0c0c0"/><rect x="997" y="471" width="1" height="18" fill="#c0c0c0"/><rect x="1001" y="473" width="1" height="16" fill="#c0c0c0"/><rect x="1005" y="469" width="1" height="20" fill="#c0c0c0"/><rect x="1009" y="466" width="1" height="23" fill="#c0c0c0"/><rect x="1013" y="465" width="1" height="24" fill="#c0c0c0"/><rect x="1017" y="464" width="1" height="25" fill="#c0c0c0"/><rect x="1021" y="461" width="1" height="28" fill="#c0c0c0"/><rect x="1025" y="455" width="1" height="34" fill="#c0c0c0"/><rect x="1029" y="442" width="1" height="47" fill="#c0c0c0"/><rect x="1033" y="439" width="1" height="50" fill="#c0c0c0"/><rect x="1037" y="437" width="1" height="52" fill="#c0c0c0"/><polyline points="5.0,464.4 13.5,453.8 21.5,444.3 29.6,436.0 37.6,431.6 45.5,428.5 53.5,428.5 61.5,431.3 69.5,434.3 77.4,439.8 85.6,446.6 93.5,457.0 101.5,468.0 109.5,479.4 117.5,488.7 125.4,491.7 133.5,487.2 141.5,478.0 153.4,466.0 159.8,461.3 165.5,459.3 188.5,458.5 207.0,459.7 226.0,460.5 231.8,463.4 243.5,471.6 253.6,483.9 258.7,489.4 269.5,495.2 281.6,497.5 293.6,494.0 305.6,490.4 317.7,484.0 329.7,481.4 341.8,482.4 349.3,486.2 353.8,488.5 361.3,485.0 373.4,474.0 385.5,457.6 389.0,451.9 399.6,439.6 411.9,431.7 425.9,426.9 439.9,426.4 454.0,431.7 464.5,440.5 476.8,451.0 482.0,456.3 489.0,467.7 497.9,480.8 504.9,492.3 511.0,502.8 513.0,505.3 518.0,508.3 524.7,511.1 531.4,510.3 538.1,509.5 543.1,505.3 549.8,496.1 554.8,486.9 561.5,473.5 566.5,462.6 572.4,450.1 578.2,441.7 585.8,437.1 591.6,440.9 600.0,450.1 605.0,459.3 610.0,467.7 618.4,476.5 625.0,480.2 631.7,484.4 638.0,486.6 644.5,487.0 651.6,486.1 660.3,483.1 669.1,476.5 677.9,466.8 686.7,454.5 693.7,446.3 699.0,441.7 709.5,441.3 716.5,444.9 725.3,454.5 732.3,458.5 739.4,462.4 744.6,465.0 750.8,471.2 756.9,480.0 762.8,488.2 766.0,494.7 768.8,500.1 771.5,506.6 774.2,512.6 777.5,518.6 780.8,524.0 785.7,530.2 791.0,532.0 797.6,528.4 802.5,522.4 806.3,516.4 809.0,511.0 811.2,504.5 813.7,498.5 815.5,492.5 817.5,486.0 821.3,473.3 824.9,461.3 827.7,451.2 831.4,440.2 834.1,431.0 837.8,420.9 841.5,411.7 846.1,403.4 849.8,399.7 853.4,399.3 858.0,403.0 861.7,408.9 865.4,416.3 869.1,424.5 873.7,434.7 878.3,443.8 882.9,452.1 886.5,456.7 893.0,459.5 898.5,455.8 904.0,451.2 909.5,445.7 916.0,441.1 921.4,440.2 927.8,443.5 933.7,449.6 939.5,456.0 944.2,461.9 949.5,467.4 955.3,472.4 961.7,477.1 967.6,478.6 975.8,478.6 981.0,477.4 985.7,477.4 991.6,475.6 997.5,474.4 1003.3,473.6 1009.2,472.4 1015.0,470.4 1021.4,468.3 1027.3,463.6 1034.3,456.8" fill="none" stroke="#ff0000" stroke-width="1" stroke-dasharray="3 3" shape-rendering="crispEdges"/></g><rect x="4" y="29" width="1305" height="1" fill="#000"/><rect x="4" y="29" width="1" height="348" fill="#000"/><rect x="4" y="376" width="1305" height="1" fill="#000"/><rect x="1308" y="29" width="1" height="522" fill="#000"/><rect x="4" y="378" width="1305" height="1" fill="#000"/><rect x="4" y="378" width="1" height="173" fill="#000"/><rect x="4" y="550" width="1305" height="1" fill="#000"/><rect x="1309" y="43" width="2" height="1" fill="#000"/><rect x="1309" y="76" width="2" height="1" fill="#000"/><rect x="1309" y="109" width="2" height="1" fill="#000"/><rect x="1309" y="142" width="2" height="1" fill="#000"/><rect x="1309" y="175" width="2" height="1" fill="#000"/><rect x="1309" y="208" width="2" height="1" fill="#000"/><rect x="1309" y="241" width="2" height="1" fill="#000"/><rect x="1309" y="274" width="2" height="1" fill="#000"/><rect x="1309" y="307" width="2" height="1" fill="#000"/><rect x="1309" y="340" width="2" height="1" fill="#000"/><rect x="1309" y="373" width="2" height="1" fill="#000"/><rect x="1309" y="380" width="1" height="1" fill="#000"/><rect x="1309" y="488" width="1" height="1" fill="#000"/><rect x="1309" y="549" width="1" height="1" fill="#000"/><rect x="5" y="551" width="1" height="3" fill="#000"/><rect x="69" y="551" width="1" height="3" fill="#000"/><rect x="133" y="551" width="1" height="3" fill="#000"/><rect x="197" y="551" width="1" height="3" fill="#000"/><rect x="261" y="551" width="1" height="3" fill="#000"/><rect x="325" y="551" width="1" height="3" fill="#000"/><rect x="389" y="551" width="1" height="3" fill="#000"/><rect x="453" y="551" width="1" height="3" fill="#000"/><rect x="517" y="551" width="1" height="3" fill="#000"/><rect x="581" y="551" width="1" height="3" fill="#000"/><rect x="645" y="551" width="1" height="3" fill="#000"/><rect x="709" y="551" width="1" height="3" fill="#000"/><rect x="773" y="551" width="1" height="3" fill="#000"/><rect x="837" y="551" width="1" height="3" fill="#000"/><rect x="901" y="551" width="1" height="3" fill="#000"/><rect x="965" y="551" width="1" height="3" fill="#000"/><rect x="1029" y="551" width="1" height="3" fill="#000"/></g><g font-family="Liberation Sans, sans-serif" font-size="10px" text-rendering="geometricPrecision" fill="#000" stroke="#000" stroke-width="0.2"><text transform="translate(1314.5,47) scale(0.886,1)">1.35020</text><text transform="translate(1314.5,80) scale(0.886,1)">1.34480</text><text transform="translate(1314.5,113) scale(0.886,1)">1.33940</text><text transform="translate(1314.5,146) scale(0.886,1)">1.33400</text><text transform="translate(1314.5,179) scale(0.886,1)">1.32860</text><text transform="translate(1314.5,212) scale(0.886,1)">1.32305</text><text transform="translate(1314.5,245) scale(0.886,1)">1.31765</text><text transform="translate(1314.5,278) scale(0.886,1)">1.31225</text><text transform="translate(1314.5,311) scale(0.886,1)">1.30685</text><text transform="translate(1314.5,344) scale(0.886,1)">1.30145</text><text transform="translate(1314.5,377) scale(0.886,1)">1.29605</text><rect x="1310" y="67" width="41" height="11" fill="#000" shape-rendering="crispEdges"/><text transform="translate(1314.5,76) scale(0.886,1)" fill="#fff" stroke="#fff">1.34545</text><text transform="translate(1312.2,389) scale(0.886,1)">0.004999</text><text transform="translate(1312.2,492) scale(0.886,1)">0.00</text><text transform="translate(1312.2,547) scale(0.886,1)">-0.002868</text><text transform="translate(5,563) scale(1,1)" textLength="50" lengthAdjust="spacingAndGlyphs">19 Oct 2018</text><text transform="translate(69,563) scale(1,1)" textLength="52.5" lengthAdjust="spacingAndGlyphs">24 Oct 00:00</text><text transform="translate(133,563) scale(1,1)" textLength="52.5" lengthAdjust="spacingAndGlyphs">26 Oct 18:00</text><text transform="translate(197,563) scale(1,1)" textLength="52.5" lengthAdjust="spacingAndGlyphs">31 Oct 10:00</text><text transform="translate(261,563) scale(1,1)" textLength="50.8" lengthAdjust="spacingAndGlyphs">3 Nov 00:00</text><text transform="translate(325,563) scale(1,1)" textLength="50.8" lengthAdjust="spacingAndGlyphs">7 Nov 19:00</text><text transform="translate(389,563) scale(1,1)" textLength="55.7" lengthAdjust="spacingAndGlyphs">12 Nov 11:00</text><text transform="translate(453,563) scale(1,1)" textLength="55.7" lengthAdjust="spacingAndGlyphs">15 Nov 00:00</text><text transform="translate(517,563) scale(1,1)" textLength="55.7" lengthAdjust="spacingAndGlyphs">19 Nov 19:00</text><text transform="translate(581,563) scale(1,1)" textLength="55.7" lengthAdjust="spacingAndGlyphs">22 Nov 11:00</text><text transform="translate(645,563) scale(1,1)" textLength="55.7" lengthAdjust="spacingAndGlyphs">27 Nov 00:00</text><text transform="translate(709,563) scale(1,1)" textLength="55.7" lengthAdjust="spacingAndGlyphs">29 Nov 19:00</text><text transform="translate(773,563) scale(1,1)" textLength="48.5" lengthAdjust="spacingAndGlyphs">4 Dec 11:00</text><text transform="translate(837,563) scale(1,1)" textLength="48.5" lengthAdjust="spacingAndGlyphs">7 Dec 00:00</text><text transform="translate(901,563) scale(1,1)" textLength="54" lengthAdjust="spacingAndGlyphs">11 Dec 19:00</text><text transform="translate(965,563) scale(1,1)" textLength="54" lengthAdjust="spacingAndGlyphs">14 Dec 11:00</text><text transform="translate(1029,563) scale(1,1)" textLength="54" lengthAdjust="spacingAndGlyphs">19 Dec 00:00</text><text transform="translate(20,41) scale(1,1)" textLength="56" lengthAdjust="spacingAndGlyphs" stroke-width="0.08">USDCAD,H4</text><text transform="translate(82.3,41) scale(1,1)" textLength="140.5" lengthAdjust="spacingAndGlyphs" stroke-width="0.08">1.34527 1.34562 1.34524 1.34545</text><text transform="translate(9,391) scale(1,1)" textLength="148" lengthAdjust="spacingAndGlyphs" stroke-width="0.08">MACD(12,26,9) 0.002381 0.001538</text><g shape-rendering="crispEdges" stroke="none"><rect x="11" y="36" width="1" height="1"/><rect x="10" y="37" width="3" height="1"/><rect x="9" y="38" width="5" height="1"/><rect x="8" y="39" width="7" height="1"/></g></g></svg>

<!-- one click trading panel -->
<div class="oct blue" style="left:8px;top:49px;width:109px;height:64px;border:1px solid #0808a8"></div>
<div class="oct blue" style="left:119px;top:49px;width:108px;height:64px;border:1px solid #0808a8"></div>
<div class="abs" style="left:59px;top:49px;width:117px;height:25px;background:#0808a8"></div>
<div class="abs" style="left:60px;top:49px;width:115px;height:24px;background:#fff"></div>
<div class="abs" style="left:117px;top:73px;width:2px;height:40px;background:#fff"></div>
<div class="abs" style="left:12px;top:72px;width:44px;height:1px;background:#0c0cb0"></div>
<div class="abs" style="left:12px;top:73px;width:44px;height:1px;background:#7878f4"></div>
<div class="abs" style="left:179px;top:72px;width:44px;height:1px;background:#0c0cb0"></div>
<div class="abs" style="left:179px;top:73px;width:44px;height:1px;background:#7878f4"></div>
<div class="abs" style="left:62px;top:49px;width:111px;height:22px;border:1px solid #a9a9b1;background:#fff"></div>
<div class="abs" style="left:83px;top:50px;width:1px;height:20px;background:#a9a9b1"></div>
<div class="abs" style="left:151px;top:50px;width:1px;height:20px;background:#a9a9b1"></div>
<div class="spin" style="left:64px;width:18px"></div>
<div class="spin" style="left:153px;width:18px"></div>
<svg class="abs" style="left:62px;top:49px" width="111" height="22" viewBox="0 0 111 22" shape-rendering="crispEdges">
  <g fill="#4866c8"><rect x="8" y="9" width="5" height="1"/><rect x="9" y="10" width="3" height="1" fill="#3c54b0"/><rect x="10" y="11" width="1" height="1" fill="#324690"/></g>
  <g fill="#4866c8"><rect x="99" y="9" width="1" height="1" fill="#324690"/><rect x="98" y="10" width="3" height="1" fill="#3c54b0"/><rect x="97" y="11" width="5" height="1"/></g>
</svg>
<span class="num" style="left:124.3px;top:54.3px;font-size:12.2px;line-height:13px;color:#000">3.00</span>
<span class="num" id="sell" style="left:20.4px;top:54px;font-size:12px;line-height:14px;transform-origin:0 0;transform:scaleX(.9)">SELL</span>
<span class="num" id="buy" style="left:188.4px;top:54px;font-size:12px;line-height:14px;transform-origin:0 0;transform:scaleX(.94)">BUY</span>
<span class="num" style="left:28.3px;top:93.2px;font-size:11.8px;line-height:12px;font-weight:bold">1.34</span>
<span class="num" style="left:56px;top:73.6px;font-size:34px;line-height:36px;transform-origin:0 0;transform:scaleX(.92)">54</span>
<span class="num" style="left:95.3px;top:77.5px;font-size:11px;line-height:12px;font-weight:bold">5</span>
<span class="num" style="left:139.3px;top:93.2px;font-size:11.8px;line-height:12px;font-weight:bold">1.34</span>
<span class="num" style="left:167px;top:73.6px;font-size:34px;line-height:36px;transform-origin:0 0;transform:scaleX(.92)">56</span>
<span class="num" style="left:206.3px;top:77.5px;font-size:11px;line-height:12px;font-weight:bold">8</span>

<!-- chart tabs -->
<div class="abs tabbar"></div>
<div class="abs" style="left:0;top:571px;width:1351px;height:1px;background:#e3e3e3"></div>
<div class="abs" style="left:0;top:573px;width:1351px;height:1px;background:#000"></div>
<div class="abs" style="left:0;top:574px;width:1px;height:18px;background:#a0a0a0"></div>
<div class="abs" style="left:1px;top:574px;width:1px;height:18px;background:#696969"></div>
<div class="abs" style="left:0;top:593px;width:1351px;height:1px;background:#fff"></div>
<div class="abs" style="left:0;top:597px;width:1350px;height:1px;background:#a0a0a0"></div>
<div class="abs" style="left:278px;top:573px;width:92px;height:19px;background:#fff;border:1px solid #000;border-top:none"></div>
<div class="abs" style="left:370px;top:575px;width:1px;height:18px;background:#b0b0b0"></div>
<div class="abs" style="left:280px;top:592px;width:91px;height:1px;background:#b0b0b0"></div>
<span class="tab" style="left:18px">EURUSD,H4</span><div class="tsep" style="left:98px"></div>
<span class="tab" style="left:109px">AUDUSD,H4</span><div class="tsep" style="left:190px"></div>
<span class="tab" style="left:200px">USDCHF,H4</span>
<span class="tab" style="left:289px;color:#000">USDCAD,H4</span>
<span class="tab" style="left:381px">USDCNH,H4</span><div class="tsep" style="left:462px"></div>
<span class="tab" style="left:472px">USDJPY,H1</span><div class="tsep" style="left:547px"></div>
<span class="tab" style="left:557px">XAUUSD,H1</span><div class="tsep" style="left:638px"></div>
<span class="tab" style="left:649px">GBPUSD,Weekly</span><div class="tsep" style="left:755px"></div>
<span class="tab" style="left:765px">SP500,H1</span><div class="tsep" style="left:831px"></div>
<svg class="abs" style="left:1310px;top:574px" width="41" height="18" viewBox="0 0 41 18">
  <path d="M14.1 4.8 L14.1 11.2 L10.8 8 Z" fill="#a0a0a0"/>
  <path d="M29.9 4.8 L29.9 11.2 L33.2 8 Z" fill="#a0a0a0"/>
</svg>
</body>
</html>
